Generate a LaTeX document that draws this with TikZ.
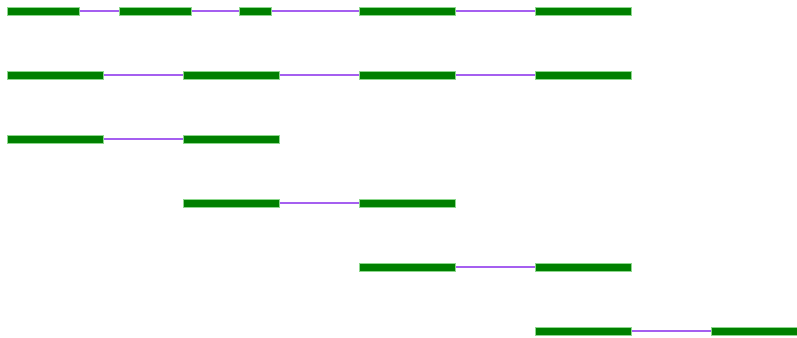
\documentclass[tikz,border=0pt]{standalone}
\usetikzlibrary{positioning}

\definecolor{exongreen}{RGB}{0,128,0}
\definecolor{exonedge}{RGB}{140,215,140}
\definecolor{intron}{RGB}{165,95,240}

\begin{document}
\begin{tikzpicture}[x=0.75pt, y=-0.75pt,
  exon/.style={draw=exonedge, line width=0.3pt, fill=exongreen, inner sep=0pt,
    minimum height=6.4pt, minimum width=#1*0.75pt},
  exon/.default=96,
  link/.style={draw=intron, line width=1pt}]
\clip (0,0) rectangle (797,338);

% first row
\node[exon=72] (a1) at (43.3,11) {};
\node[exon=72] (a2) at (155.3,11) {};
\node[exon=32] (a3) at (255.3,11) {};
\node[exon] (a4) at (407.3,11) {};
\node[exon] (a5) at (583.3,11) {};

% second row
\node[exon] (b1) at (55.3,75) {};
\node[exon] (b2) at (231.3,75) {};
\node[exon] (b3) at (407.3,75) {};
\node[exon] (b4) at (583.3,75) {};

% third row
\node[exon] (c1) at (55.3,139) {};
\node[exon] (c2) at (231.3,139) {};

% fourth row
\node[exon] (d1) at (231.3,203) {};
\node[exon] (d2) at (407.3,203) {};

% fifth row
\node[exon] (e1) at (407.3,267) {};
\node[exon] (e2) at (583.3,267) {};

% sixth row
\node[exon] (f1) at (583.3,331) {};
\node[exon] (f2) at (759.3,331) {};

\draw[link] (a1) -- (a2);
\draw[link] (a2) -- (a3);
\draw[link] (a3) -- (a4);
\draw[link] (a4) -- (a5);
\draw[link] (b1) -- (b2);
\draw[link] (b2) -- (b3);
\draw[link] (b3) -- (b4);
\draw[link] (c1) -- (c2);
\draw[link] (d1) -- (d2);
\draw[link] (e1) -- (e2);
\draw[link] (f1) -- (f2);
\end{tikzpicture}
\end{document}
